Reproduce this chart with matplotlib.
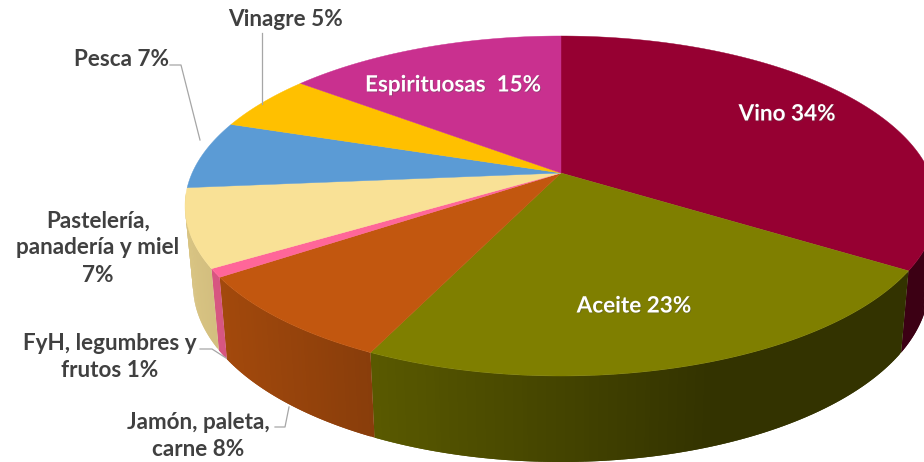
import numpy as np
import matplotlib
matplotlib.use("Agg")
import matplotlib.pyplot as plt
import matplotlib.patheffects as pe

# ---------------------------------------------------------------
# Data
# ---------------------------------------------------------------
categories = ["Vino", "Aceite", "Jamón, paleta, carne", "FyH, legumbres y frutos",
              "Pastelería, panadería y miel", "Pesca", "Vinagre", "Espirituosas"]
shares = [34, 23, 8.4, 0.8, 7.4, 6.5, 5.4, 14.5]
colors = ["#960032", "#7F7F00", "#C2570F", "#FF6699",
          "#F9E196", "#5B9BD5", "#FFC000", "#C9308F"]

label_texts = ["Vino 34%", "Aceite 23%", "Jamón, paleta,\ncarne 8%", "FyH, legumbres y\nfrutos 1%",
               "Pastelería,\npanadería y miel\n7%", "Pesca 7%", "Vinagre 5%", "Espirituosas  15%"]
label_x = [787, 634, 198, 110, 98, 121, 285, 453]
label_y = [114, 306, 436, 357, 248, 59, 20, 85]
label_white = [True, True, False, False, False, False, False, True]

# leader lines (x list, y list)
leaders = [([170, 181, 200], [65, 65, 140]),
           ([262, 262], [33, 104]),
           ([200, 212, 226], [349, 349, 358]),
           ([275, 285, 289], [427, 427, 407])]

# ---------------------------------------------------------------
# Pie geometry, pixels of the image
# ---------------------------------------------------------------
CX = 561
TOP_CY, TOP_RX, TOP_RY = 206, 376, 170
BOT_CY, BOT_RX, BOT_RY = 285, 368, 177
P = -0.194  # perspective shift of the pie centre


def project(frac):
    # fraction of the pie (clockwise from 12 o'clock) -> unit ellipse point
    a = 2 * np.pi * np.asarray(frac)
    s, c = np.sin(a), -np.cos(a)
    d = 1 + P * c
    return s * np.sqrt(1 - P * P) / d, (c + P) / d


def shade(u):
    # walls get darker from left to right
    return np.clip(0.87 - 0.335 * (u + 1), 0.4, 0.87)


fig = plt.figure(figsize=(9.24, 4.62), dpi=100)
ax = fig.add_axes([0, 0, 1, 1])
ax.set_xlim(0, 924)
ax.set_ylim(462, 0)
ax.axis("off")

edges = np.cumsum([0] + shares) / sum(shares)

# side walls first, each strip overlaps the next so no seams show
for i in range(len(shares)):
    n = max(int(shares[i] * 6), 4)
    t = np.linspace(edges[i], edges[i + 1], n + 1)
    u, v = project(t)
    base = np.array(matplotlib.colors.to_rgb(colors[i]))
    for j in range(n):
        if (u[j] + u[j + 1]) / 2 < 0 and v[j] < -0.06:
            continue
        if u[j] > 0 and v[j + 1] < -0.06:
            continue
        k = min(j + 2, n)
        col = base * shade((u[j] + u[j + 1]) / 2)
        xs = [CX + TOP_RX * u[j], CX + TOP_RX * u[j + 1], CX + TOP_RX * u[k],
              CX + BOT_RX * u[k], CX + BOT_RX * u[j + 1], CX + BOT_RX * u[j]]
        ys = [TOP_CY + TOP_RY * v[j], TOP_CY + TOP_RY * v[j + 1], TOP_CY + TOP_RY * v[k],
              BOT_CY + BOT_RY * v[k], BOT_CY + BOT_RY * v[j + 1], BOT_CY + BOT_RY * v[j]]
        ax.fill(xs, ys, color=col, lw=0, zorder=1)

# top surface
apex_y = TOP_CY + TOP_RY * P
for i in range(len(shares)):
    t = np.linspace(edges[i], edges[i + 1], 120)
    u, v = project(t)
    xs = np.r_[CX, CX + TOP_RX * u]
    ys = np.r_[apex_y, TOP_CY + TOP_RY * v]
    ax.fill(xs, ys, color=colors[i], lw=0.3, zorder=2)

for lx, ly in leaders:
    ax.plot(lx, ly, color="#a6a6a6", lw=0.9, zorder=3)

for txt, x, y, white in zip(label_texts, label_x, label_y, label_white):
    t = ax.text(x, y, txt, ha="center", va="center", fontsize=16.2, fontweight="bold",
                family="Lato", color="white" if white else "#404040",
                linespacing=1.37, zorder=4)
    if white:
        t.set_path_effects([pe.withSimplePatchShadow(offset=(0.6, -0.6), alpha=0.4)])

fig.savefig("out.png", dpi=100)
